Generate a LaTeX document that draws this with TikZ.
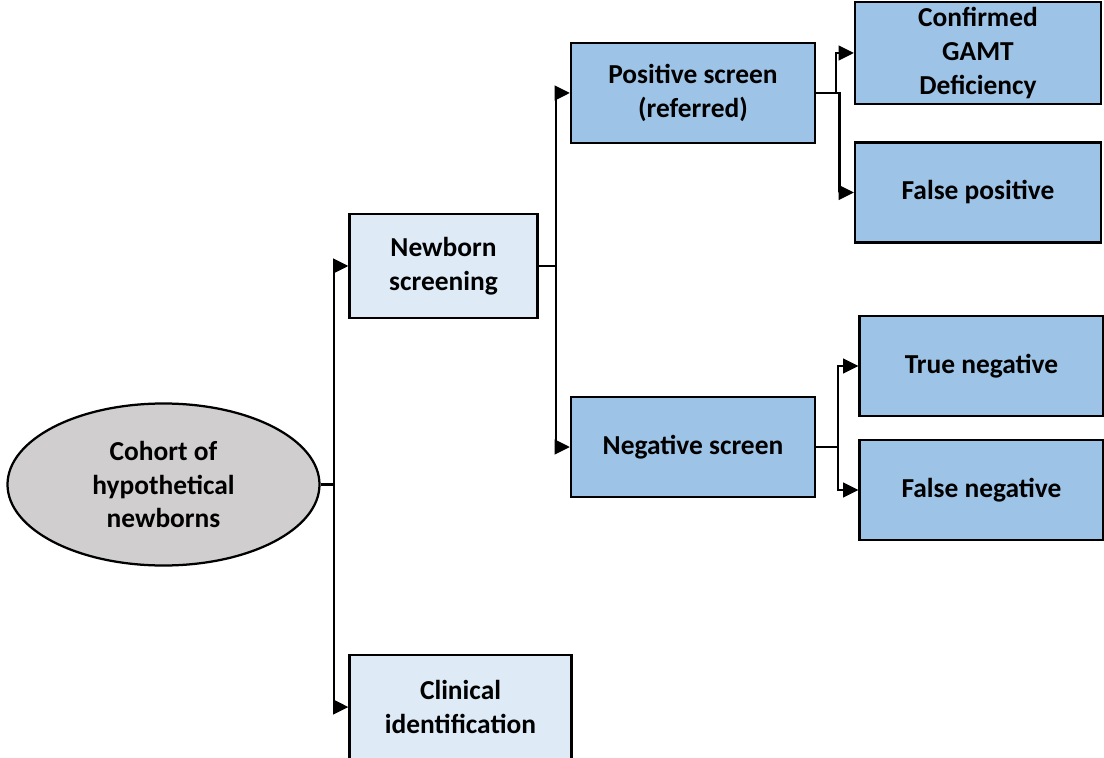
\documentclass[tikz,border=0pt]{standalone}
\usepackage{tikz}
\usetikzlibrary{arrows.meta,positioning,calc,shapes.geometric}
\usepackage{fontspec}
\setmainfont{Carlito}
\usepackage{xcolor}
\definecolor{Ink}{HTML}{000000}
\definecolor{PaleBlue}{HTML}{DEEBF7}
\definecolor{MidBlue}{HTML}{9DC3E6}
\definecolor{Stone}{HTML}{D0CECE}
\tikzset{
 box/.style={draw=Ink, line width=1.6pt, align=center, inner sep=4pt, minimum height=2.5cm, font=\fontsize{19.5}{24}\selectfont\bfseries},
 palebox/.style={box, fill=PaleBlue},
 midbox/.style={box, fill=MidBlue, minimum width=6.1cm},
 cohort/.style={ellipse, draw=Ink, line width=1.6pt, fill=Stone, minimum width=7.8cm, minimum height=4.05cm, inner sep=0pt, align=center, font=\fontsize{19.5}{24}\selectfont\bfseries},
 arrow/.style={-{Triangle[length=0.38cm,width=0.36cm]}, line width=1.8pt, draw=Ink}
}

\begin{document}
\begin{tikzpicture}
\useasboundingbox (0,0) rectangle (27.6,18.925);
\node[cohort] (coh) at (4.0875,6.8125) {Cohort of\\hypothetical\\newborns};
\node[palebox,minimum width=4.7cm,minimum height=2.6cm] (nbs) at (11.0875,12.275) {Newborn\\screening};
\node[palebox,minimum width=5.55cm,minimum height=2.6cm] (clin) at (11.5125,1.25) {Clinical\\identification};
\node[midbox] (pos) at (17.325,16.6) {Positive screen\\(referred)};
\node[midbox] (neg) at (17.325,7.75) {Negative screen};
\node[midbox,minimum width=6.15cm] (conf) at (24.45,17.6) {Confirmed\\GAMT\\Deficiency};
\node[midbox,minimum width=6.15cm] (fpos) at (24.45,14.1125) {False positive};
\node[midbox,minimum width=6.1cm] (tneg) at (24.5375,9.775) {True negative};
\node[midbox,minimum width=6.1cm] (fneg) at (24.5375,6.675) {False negative};

\draw[arrow] (coh.east) -- ++(0.33,0) |- (nbs.west);
\draw[arrow] (coh.east) -- ++(0.33,0) |- (clin.west);
\draw[arrow] (nbs.east) -- ++(0.43,0) |- (pos.west);
\draw[arrow] (nbs.east) -- ++(0.43,0) |- (neg.west);
\draw[arrow] (pos.east) -- ++(0.5,0) |- (conf.west);
\draw[arrow] (pos.east) -- ++(0.58,0) |- (fpos.west);
\draw[arrow] (neg.east) -- ++(0.55,0) |- (tneg.west);
\draw[arrow] (neg.east) -- ++(0.55,0) |- (fneg.west);
\end{tikzpicture}
\end{document}
